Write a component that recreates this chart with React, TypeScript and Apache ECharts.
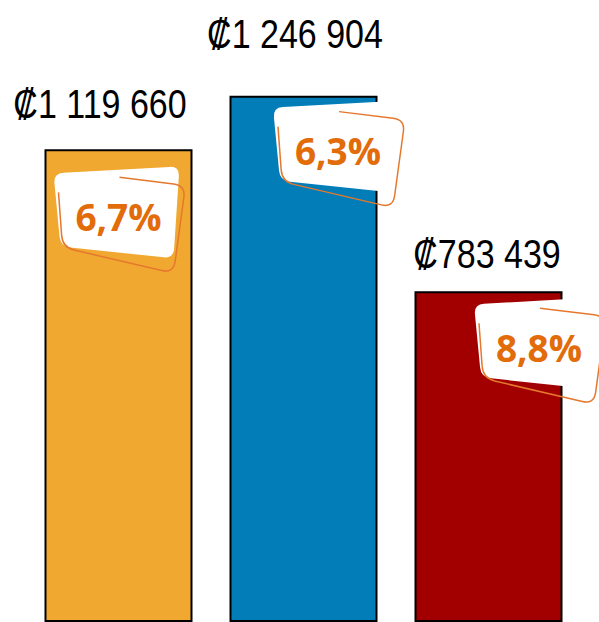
import React, { useEffect, useRef } from "react";
import * as echarts from "echarts";

const categories = ["Categoría 1", "Categoría 2", "Categoría 3"];
const amounts = [1119660, 1246904, 783439];
const percents = [6.7, 6.3, 8.8];
const barColors = ["#F0A830", "#027DB8", "#A20000"];

// layout (not data)
const labelOffsets = [[-18.5, -45], [-8.5, -62], [-1.5, -37]];
const badgeOffsets = [[0, 67], [34.5, 55], [50.5, 56]];

type P = [number, number];
function unit(a: P, b: P, r: number): P {
  const dx = b[0] - a[0];
  const dy = b[1] - a[1];
  const l = Math.hypot(dx, dy) || 1;
  return [a[0] + (dx / l) * r, a[1] + (dy / l) * r];
}
function roundedPath(pts: P[], r: number, closed: boolean): string {
  const n = pts.length;
  const f = (p: P) => `${p[0].toFixed(2)} ${p[1].toFixed(2)}`;
  if (closed) {
    const corner = (i: number) => {
      const P0 = pts[i];
      const A = pts[(i - 1 + n) % n];
      const B = pts[(i + 1) % n];
      return { p1: unit(P0, A, r), p2: unit(P0, B, r), c: P0 };
    };
    const c0 = corner(0);
    let d = `M ${f(c0.p2)}`;
    for (let i = 1; i < n; i++) {
      const c = corner(i);
      d += ` L ${f(c.p1)} Q ${f(c.c)} ${f(c.p2)}`;
    }
    d += ` L ${f(c0.p1)} Q ${f(c0.c)} ${f(c0.p2)} Z`;
    return d;
  }
  let d = `M ${f(pts[0])}`;
  for (let i = 1; i < n - 1; i++) {
    const p1 = unit(pts[i], pts[i - 1], r);
    const p2 = unit(pts[i], pts[i + 1], r);
    d += ` L ${f(p1)} Q ${f(pts[i])} ${f(p2)}`;
  }
  d += ` L ${f(pts[n - 1])}`;
  return d;
}

const whitePts: P[] = [[-65, -43], [61, -50], [55, 42], [-58, 30]];
const outlinePts: P[] = [[1, -39], [67, -31], [55, 57], [-56, 31], [-60, -24]];

echarts.graphic.registerShape(
  "badgeFill",
  echarts.graphic.extendPath(roundedPath(whitePts, 10, true), {})
);
echarts.graphic.registerShape(
  "badgeLine",
  echarts.graphic.extendPath(roundedPath(outlinePts, 12, false), {})
);

function fmtAmount(v: number): string {
  return "₡" + String(v).replace(/\B(?=(\d{3})+(?!\d))/g, " ");
}
function fmtPct(v: number): string {
  return v.toFixed(1).replace(".", ",") + "%";
}

export default function App() {
  const ref = useRef<HTMLDivElement>(null);
  useEffect(() => {
    if (!ref.current) return;
    const chart = echarts.init(ref.current, null, { renderer: "svg" });
    chart.setOption({
      animation: false,
      backgroundColor: "#ffffff",
      grid: { left: 26, right: 18, top: 31, bottom: 0, containLabel: false },
      xAxis: {
        type: "category",
        data: categories,
        show: false,
      },
      yAxis: { type: "value", min: 0, max: 1400000, show: false },
      series: [
        {
          type: "bar",
          barCategoryGap: "20%",
          data: amounts.map((v, i) => ({
            value: v,
            itemStyle: { color: barColors[i], borderColor: "#000", borderWidth: 2 },
          })),
        },
      ],
    });
    const graphics: any[] = [];
    amounts.forEach((v, i) => {
      const pt = chart.convertToPixel({ seriesIndex: 0 }, [i, v]) as number[];
      graphics.push({
        type: "text",
        x: pt[0] + labelOffsets[i][0],
        y: pt[1] + labelOffsets[i][1],
        scaleX: 0.83,
        z: 100,
        style: {
          text: fmtAmount(v),
          fill: "#000",
          fontSize: 41,
          fontFamily: '"Liberation Sans", Arial, sans-serif',
          align: "center",
          verticalAlign: "middle",
        },
      });
      const cx = pt[0] + badgeOffsets[i][0];
      const cy = pt[1] + badgeOffsets[i][1];
      graphics.push(
        { type: "badgeFill", x: cx, y: cy, z: 100, style: { fill: "#ffffff" } },
        {
          type: "badgeLine",
          x: cx,
          y: cy,
          z: 101,
          style: { fill: "none", stroke: "#E5782E", lineWidth: 1.5 },
        },
        {
          type: "text",
          x: cx,
          y: cy,
          z: 102,
          style: {
            text: fmtPct(percents[i]),
            fill: "#E26B0A",
            fontSize: 37,
            fontWeight: "bold",
            fontFamily: '"Open Sans", sans-serif',
            align: "center",
            verticalAlign: "middle",
          },
        }
      );
    });
    chart.setOption({ graphic: graphics });
    return () => chart.dispose();
  }, []);
  return (
    <div
      ref={ref}
      style={{ position: "fixed", left: 0, top: 0, width: 599, height: 622 }}
    />
  );
}
